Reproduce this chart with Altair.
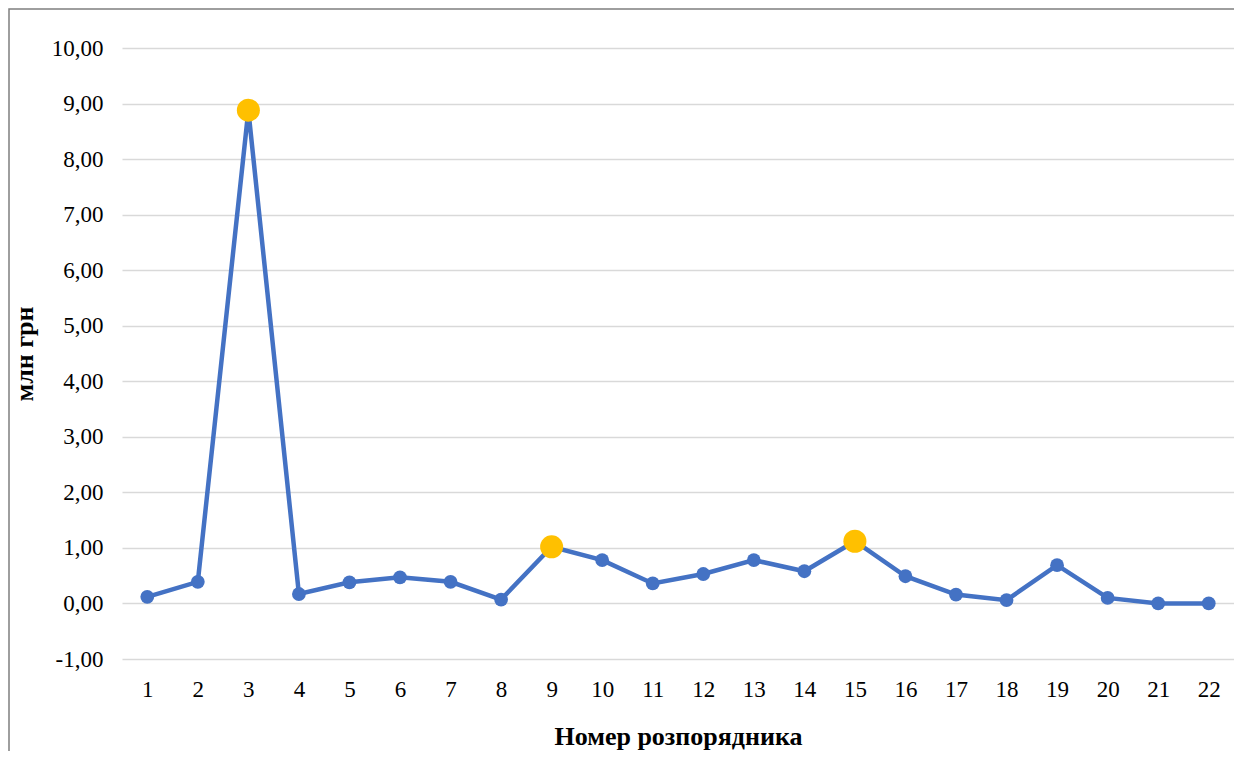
import altair as alt
import pandas as pd

categories = [str(i) for i in range(1, 23)]
values = [0.12, 0.39, 8.88, 0.17, 0.38, 0.47, 0.39, 0.07, 1.02, 0.78, 0.36,
          0.53, 0.78, 0.58, 1.12, 0.49, 0.16, 0.06, 0.69, 0.10, 0.00, 0.00]
highlighted = ["3", "9", "15"]

df = pd.DataFrame({"cat": categories, "val": values})
df["hl"] = df["cat"].isin(highlighted)

FONT = "Liberation Serif"
label_expr = "(datum.value < 0 ? '-' : '') + replace(format(abs(datum.value), '.2f'), '.', ',')"

x = alt.X("cat:O", sort=categories,
          axis=alt.Axis(title="Номер розпорядника", labelAngle=0, domain=False, ticks=False,
                        labelPadding=19, titlePadding=22, labelFontSize=23, titleFontSize=26,
                        titleFontWeight="bold", labelFont=FONT, titleFont=FONT,
                        labelColor="#000000", titleColor="#000000", grid=False))
y = alt.Y("val:Q", scale=alt.Scale(domain=[-1, 10], nice=False, zero=False),
          axis=alt.Axis(title="млн грн", values=list(range(-1, 11)), labelExpr=label_expr,
                        domain=False, ticks=False, labelPadding=19, titlePadding=14,
                        labelFontSize=23, titleFontSize=26, titleFontWeight="bold",
                        labelFont=FONT, titleFont=FONT, labelColor="#000000",
                        titleColor="#000000", gridColor="#D9D9D9", gridWidth=1.5))

base = alt.Chart(df)
line = base.mark_line(color="#4472C4", strokeWidth=4.5).encode(x=x, y=y)
pts = base.mark_circle(color="#4472C4", size=190, opacity=1).encode(x=x, y=y)
hl = base.transform_filter("datum.hl").mark_circle(color="#FFC000", size=530, opacity=1).encode(x=x, y=y)

frame = alt.Chart(pd.DataFrame({"a": [0]})).mark_rect(fill=None, stroke="#7F7F7F", strokeWidth=1.5).encode(
    x=alt.value(-113), x2=alt.value(1140), y=alt.value(-39), y2=alt.value(720))

chart = alt.layer(frame, line, pts, hl).properties(
    width=1112, height=611,
    autosize=alt.AutoSizeParams(type="none"),
    padding={"left": 114, "top": 40, "right": 0, "bottom": 92},
).configure_view(stroke=None)

chart.save("out.html", embed_options={"renderer": "svg", "actions": False})
